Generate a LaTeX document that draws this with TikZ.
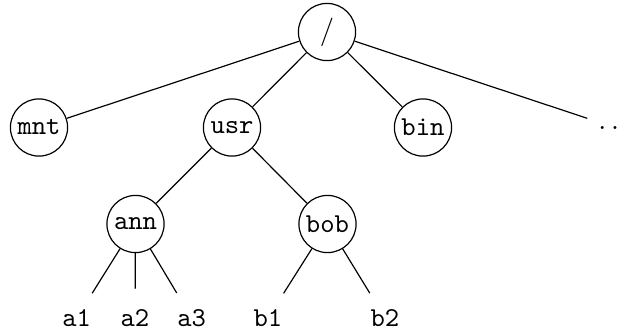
\documentclass[tikz,border=0pt]{standalone}
\tikzset{
  dirnode/.style={circle, draw, line width=0.016cm, minimum size=0.773000cm, inner sep=1pt, font=\fontsize{10.5}{12.5}\ttfamily},
  leafnode/.style={dirnode, draw=none}
}
\begin{document}
\begin{tikzpicture}
                \clip (0,0) rectangle (8.421800,4.474500);
                {\normalsize

                % Placing directory nodes
                \node [dirnode] (root) at (4.420400,4.041900) {$/$};%
                \node [dirnode] (mnt) at (0.527200,2.750900) {mnt};%
                \node [dirnode] (usr) at (3.136200,2.750900) {usr};%
                \node [dirnode] (bin) at (5.718100,2.750900) {bin};%
                \node [leafnode] (more) at (8.313600,2.750900) {$\ldots$};%
                \node [dirnode] (ann) at (1.831700,1.446400) {ann};%
                \node [dirnode] (bob) at (4.427100,1.446400) {bob};%

                % Placing leaf nodes
                \node [leafnode] (a1) at (1.036800,0.175700) {a1};%
                \node [leafnode] (a2) at (1.824900,0.175700) {a2};%
                \node [leafnode] (a3) at (2.591400,0.175700) {a3};%
                \node [leafnode] (b1) at (3.622800,0.175700) {b1};%
                \node [leafnode] (b2) at (5.204400,0.175700) {b2};%

                % Drawing edges from /
                \draw [line width=0.016cm] (root) -- (mnt);%
                \draw [line width=0.016cm] (root) -- (usr);%
                \draw [line width=0.016cm] (root) -- (bin);%
                \draw [line width=0.016cm] (root) -- (more);%

                % Drawing edges from usr
                \draw [line width=0.016cm] (usr) -- (ann);%
                \draw [line width=0.016cm] (usr) -- (bob);%

                % Drawing edges from ann
                \draw [line width=0.016cm] (ann) -- (a1);%
                \draw [line width=0.016cm] (ann) -- (a2);%
                \draw [line width=0.016cm] (ann) -- (a3);%

                % Drawing edges from bob
                \draw [line width=0.016cm] (bob) -- (b1);%
                \draw [line width=0.016cm] (bob) -- (b2);%
                }
\end{tikzpicture}
\end{document}
